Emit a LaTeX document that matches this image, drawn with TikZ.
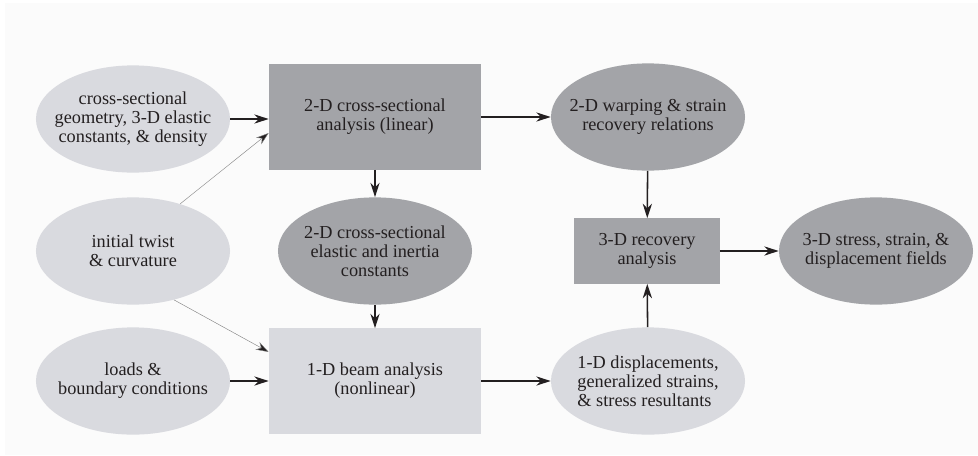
\documentclass[tikz,border=0pt]{standalone}
\usepackage{fontspec}
\setmainfont{Liberation Serif}
\usetikzlibrary{arrows.meta,positioning,shapes.geometric}
\definecolor{lightfill}{RGB}{217,218,223}
\definecolor{darkfill}{RGB}{163,164,168}
\definecolor{inkcol}{RGB}{35,31,32}
\definecolor{pagecol}{RGB}{251,251,251}

\begin{document}
\begin{tikzpicture}[x=0.025cm,y=-0.025cm,font=\fontsize{13}{13.6}\selectfont,text=inkcol,>={Stealth[length=3.6mm,width=2.3mm]},
  inbox/.style={ellipse,fill=lightfill,minimum width=4.85cm,minimum height=2.68cm,inner xsep=-0.6cm,inner ysep=0pt,align=center},
  outbox/.style={ellipse,fill=darkfill,minimum width=4.85cm,minimum height=2.68cm,inner xsep=-0.6cm,inner ysep=0pt,align=center},
  calc/.style={rectangle,minimum width=5.3cm,minimum height=2.63cm,inner sep=0pt,align=center},
  flow/.style={->,line width=1.1pt,draw=inkcol},
  thinflow/.style={->,line width=0.3pt,draw=gray,>={Stealth[length=3.2mm,width=2.1mm,fill=inkcol]}}]
\useasboundingbox (0,0) rectangle (978,455);
\fill[pagecol] (5,3) rectangle (978,455);
\node[inbox] (geom) at (133,119) {cross-sectional\\geometry, 3-D elastic\\constants, \& density};
\node[inbox] (twist) at (133,251) {initial twist\\\& curvature};
\node[inbox] (loads) at (133,381) {loads \&\\boundary conditions};
\node[calc,fill=darkfill] (xsec) at (375,117) {2-D cross-sectional\\analysis (linear)};
\node[outbox] (consts) at (375,251) {2-D cross-sectional\\elastic and inertia\\constants};
\node[calc,fill=lightfill] (beam) at (375,381) {1-D beam analysis\\(nonlinear)};
\node[outbox] (warp) at (648,117) {2-D warping \& strain\\recovery relations};
\node[calc,fill=darkfill,minimum width=3.63cm,minimum height=1.63cm] (recov) at (647,251) {3-D recovery\\analysis};
\node[outbox] (fields) at (876,251) {3-D stress, strain, \&\\displacement fields};
\node[inbox,align=left] (disp) at (648,381) {1-D displacements,\\generalized strains,\\\& stress resultants};
\draw[flow] (geom) -- (xsec.west |- geom);
\draw[flow] (loads) -- (beam.west |- loads);
\draw[thinflow] (twist.45) -- (xsec.west |- 0,133);
\draw[thinflow] (twist.-50) -- (beam.west |- 0,352);
\draw[flow] (xsec) -- (consts);
\draw[flow] (consts) -- (beam);
\draw[flow] (xsec) -- (warp);
\draw[flow] (beam) -- (disp);
\draw[flow] (warp) -- (recov);
\draw[flow] (disp) -- (recov);
\draw[flow] (recov) -- (fields);
\end{tikzpicture}
\end{document}
